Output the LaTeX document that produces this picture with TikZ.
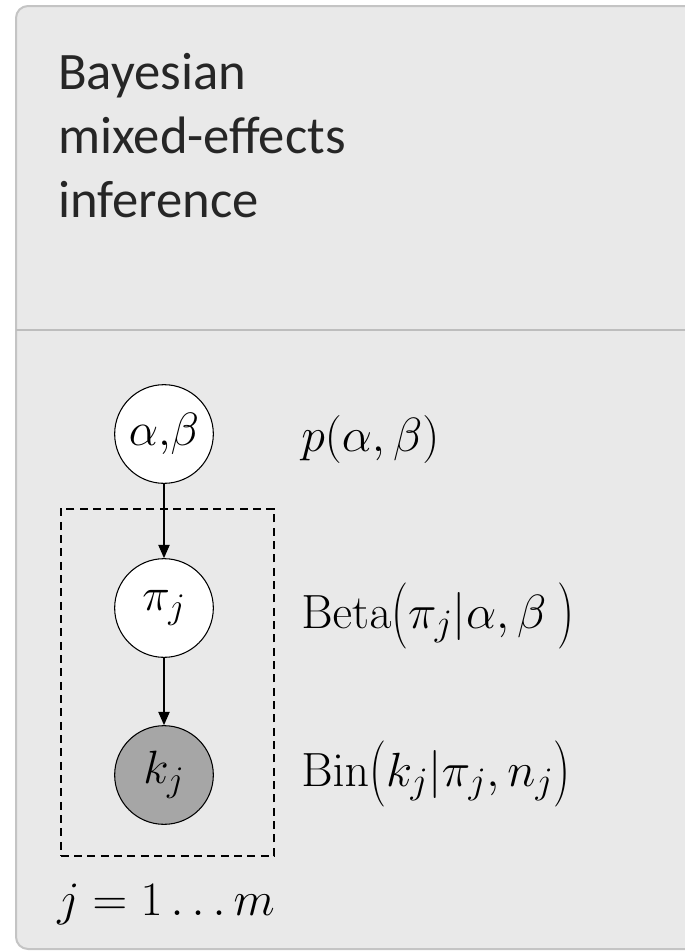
\RequirePackage{fix-cm}
\documentclass[tikz,border=0pt]{standalone}
\usepackage[no-math]{fontspec}
\setmainfont{Carlito}
\usetikzlibrary{arrows.meta}
\DeclareMathSizes{36}{36}{28}{20}
\DeclareMathSizes{35}{35}{27}{19}
\newcommand{\tallparen}[1]{\mathchoice{\vcenter{\hbox{\scalebox{1}[1.38]{$\displaystyle#1$}}}}{\vcenter{\hbox{\scalebox{1}[1.38]{$#1$}}}}{#1}{#1}}
\definecolor{panelbg}{HTML}{E9E9E9}
\definecolor{panelline}{HTML}{C4C4C4}
\definecolor{divline}{HTML}{BDBDBD}
\definecolor{obsfill}{HTML}{A6A6A6}
\definecolor{titletext}{HTML}{262626}
\tikzset{
  titletxt/.style={anchor=base west, inner sep=0pt, text=titletext, font=\fontsize{39.5pt}{48pt}\selectfont},
  mathtxt/.style={anchor=base west, inner sep=0pt, font=\fontsize{36pt}{44pt}\selectfont},
  varnode/.style={circle, draw=black, line width=0.8pt, fill=white, minimum size=74pt, inner sep=0pt, font=\fontsize{35pt}{42pt}\selectfont},
  obsnode/.style={varnode, fill=obsfill},
  plate/.style={draw=black, dashed, dash pattern=on 6pt off 4pt, line width=1.2pt},
  edge/.style={draw=black, line width=1pt, -{Triangle[length=10pt,width=8.5pt]}}
}
\begin{document}
\begin{tikzpicture}[x=0.75pt, y=-0.75pt]
\useasboundingbox (0,0) rectangle (685,951);
% panel
\draw[fill=panelbg, draw=panelline, line width=1.5pt, rounded corners=9pt] (16,6) rectangle (720,949);
\draw[divline, line width=1.6pt] (16,330) -- (685,330);
% title
\node[titletxt] (t1) at (58,89) {Bayesian};
\node[titletxt] (t2) at (58,153) {mixed-effects};
\node[titletxt] (t3) at (58,217) {inference};
% plate
\node[plate, minimum width=160pt, minimum height=260.25pt, inner sep=0pt, anchor=north west] (plt) at (60,508) {};
% nodes
\node[varnode] (ab) at (164,434) {$\alpha{,}\beta$};
\node[varnode] (pj) at (164,608) {$\pi_j$};
\node[obsnode] (kj) at (164,775) {$k_j$};
\draw[edge] (ab) -- (pj);
\draw[edge] (pj) -- (kj);
% labels
\node[mathtxt] (lab) at (301,451) {$p(\alpha,\beta)$};
\node[mathtxt] (lpi) at (301,628) {$\mathrm{Beta}\mathopen{\tallparen{(}}\pi_j{|}\alpha,\beta\ \mathclose{\tallparen{)}}$};
\node[mathtxt] (lk) at (301,786) {$\mathrm{Bin}\mathopen{\tallparen{(}}k_j{|}\pi_j,n_j\mathclose{\tallparen{)}}$};
\node[mathtxt] (lj) at (57,915) {$j=1\ldots m$};
\end{tikzpicture}
\end{document}
